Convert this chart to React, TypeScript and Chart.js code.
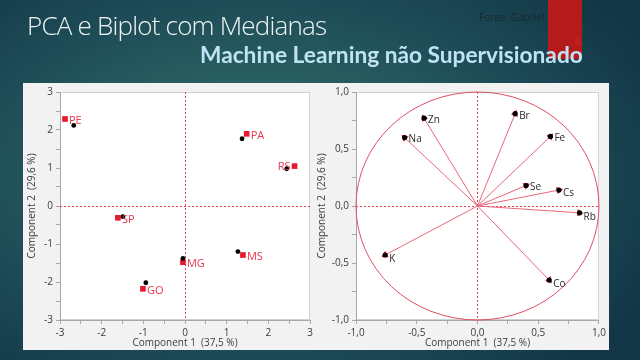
import React, { useEffect, useRef } from "react";
import { Chart, registerables } from "chart.js";

Chart.register(...registerables);

// ---------- Data ----------
const stateLabels = ["PE", "PA", "RS", "SP", "MG", "MS", "GO"];
const stateComp1 = [-2.88, 1.48, 2.63, -1.61, -0.05, 1.39, -1.01];
const stateComp2 = [2.29, 1.9, 1.05, -0.31, -1.48, -1.29, -2.18];
const medianComp1 = [-2.67, 1.37, 2.44, -1.49, -0.05, 1.27, -0.94];
const medianComp2 = [2.12, 1.77, 0.98, -0.28, -1.38, -1.2, -2.02];
const stateLabelSide = ["right", "right", "left", "right", "right", "right", "right"];

const elementLabels = ["Zn", "Na", "Br", "Fe", "Se", "Cs", "Rb", "K", "Co"];
const loadComp1 = [-0.44, -0.6, 0.31, 0.6, 0.4, 0.67, 0.84, -0.76, 0.59];
const loadComp2 = [0.77, 0.6, 0.81, 0.61, 0.18, 0.14, -0.06, -0.43, -0.65];
const elementLabelDrop = [2, 2, 2, 2, 2, 3, 4, 4, 4];

const scoreTicks = [-3, -2, -1, 0, 1, 2, 3];
const loadingTicks = [-1, -0.5, 0, 0.5, 1];
const xTitle = "Component 1  (37,5 %)";
const yTitle = "Component 2  (29,6 %)";

const FONT = "'Open Sans', 'Noto Sans', sans-serif";
const TXT = "#3c3c3c";

const plotBox = {
  id: "plotBox",
  beforeDraw(chart: any) {
    const { ctx, chartArea: a } = chart;
    ctx.save();
    ctx.fillStyle = "#ffffff";
    ctx.fillRect(a.left, a.top, a.width, a.height);
    ctx.strokeStyle = "#d2d2d2";
    ctx.lineWidth = 1;
    ctx.strokeRect(a.left + 0.5, a.top + 0.5, a.width - 1, a.height - 1);
    ctx.restore();
  },
};

const zeroLines = {
  id: "zeroLines",
  beforeDatasetsDraw(chart: any) {
    const { ctx, chartArea: a, scales } = chart;
    const x0 = Math.round(scales.x.getPixelForValue(0)) + 0.5;
    const y0 = Math.round(scales.y.getPixelForValue(0)) + 0.5;
    ctx.save();
    ctx.strokeStyle = "#e0455a";
    ctx.lineWidth = 1;
    ctx.setLineDash([2, 2]);
    ctx.beginPath();
    ctx.moveTo(x0, a.top);
    ctx.lineTo(x0, a.bottom);
    ctx.moveTo(a.left, y0);
    ctx.lineTo(a.right, y0);
    ctx.stroke();
    ctx.restore();
  },
};

const unitCircle = {
  id: "unitCircle",
  beforeDatasetsDraw(chart: any) {
    const { ctx, scales } = chart;
    const cx = scales.x.getPixelForValue(0);
    const cy = scales.y.getPixelForValue(0);
    const rx = scales.x.getPixelForValue(1) - cx;
    const ry = cy - scales.y.getPixelForValue(1);
    ctx.save();
    ctx.strokeStyle = "#e05064";
    ctx.lineWidth = 1;
    ctx.beginPath();
    ctx.ellipse(cx, cy, rx, ry, 0, 0, Math.PI * 2);
    ctx.stroke();
    ctx.restore();
  },
};

const stateLabelPlugin = {
  id: "stateLabelPlugin",
  afterDatasetsDraw(chart: any) {
    const { ctx, scales } = chart;
    ctx.save();
    ctx.font = `11px ${FONT}`;
    ctx.fillStyle = "#e8354f";
    ctx.textBaseline = "middle";
    stateLabels.forEach((lab, i) => {
      const px = scales.x.getPixelForValue(stateComp1[i]);
      const py = scales.y.getPixelForValue(stateComp2[i]);
      if (stateLabelSide[i] === "left") {
        ctx.textAlign = "right";
        ctx.fillText(lab, px - 4, py + 1);
      } else {
        ctx.textAlign = "left";
        ctx.fillText(lab, px + 4, py + 2);
      }
    });
    ctx.restore();
  },
};

const elementLabelPlugin = {
  id: "elementLabelPlugin",
  afterDatasetsDraw(chart: any) {
    const { ctx, scales } = chart;
    ctx.save();
    ctx.font = `10px ${FONT}`;
    ctx.fillStyle = "#2a2a2a";
    ctx.textBaseline = "middle";
    ctx.textAlign = "left";
    elementLabels.forEach((lab, i) => {
      const px = scales.x.getPixelForValue(loadComp1[i]);
      const py = scales.y.getPixelForValue(loadComp2[i]);
      ctx.fillText(lab, px + 4, py + elementLabelDrop[i]);
    });
    ctx.restore();
  },
};

function axisBase(min: number, max: number, step: number, labels: number[], fmt: (v: number) => string) {
  return {
    type: "linear" as const,
    min,
    max,
    ticks: {
      stepSize: step,
      autoSkip: false,
      maxRotation: 0,
      color: TXT,
      padding: 3,
      font: { family: FONT, size: 10 },
      callback: (v: any) => {
        const n = Number(v);
        return labels.some((l) => Math.abs(l - n) < 1e-6) ? fmt(n) : "";
      },
    },
    grid: {
      drawOnChartArea: false,
      drawTicks: true,
      tickLength: 4,
      color: "#a8a8a8",
    },
    border: { display: true, color: "#a8a8a8" },
  };
}

const intFmt = (v: number) => String(Math.round(v));
const decFmt = (v: number) => v.toFixed(1).replace(".", ",");

function ScoreChart() {
  const ref = useRef<HTMLCanvasElement>(null);
  useEffect(() => {
    if (!ref.current) return;
    const chart = new Chart(ref.current, {
      type: "scatter",
      data: {
        datasets: [
          {
            label: "medians",
            data: medianComp1.map((x, i) => ({ x, y: medianComp2[i] })),
            backgroundColor: "#000000",
            borderWidth: 0,
            pointRadius: 2.4,
            order: 1,
          },
          {
            label: "states",
            data: stateComp1.map((x, i) => ({ x, y: stateComp2[i] })),
            backgroundColor: "#e8192e",
            borderWidth: 0,
            pointStyle: "rect",
            pointRadius: 4,
            order: 2,
          },
        ],
      },
      options: {
        responsive: false,
        animation: false,
        devicePixelRatio: 1,
        events: [],
        layout: { padding: { top: 6, right: 6, left: 0, bottom: 0 } },
        plugins: { legend: { display: false }, tooltip: { enabled: false } },
        scales: {
          x: {
            ...axisBase(-3, 3, 0.5, scoreTicks, intFmt),
            afterFit: (s: any) => {
              s.height = 30;
            },
            title: {
              display: true,
              text: xTitle,
              color: TXT,
              font: { family: FONT, size: 10 },
              padding: { top: 0, bottom: 1 },
            },
          },
          y: {
            ...axisBase(-3, 3, 0.5, scoreTicks, intFmt),
            afterFit: (s: any) => {
              s.width = 37;
            },
            title: {
              display: true,
              text: yTitle,
              color: TXT,
              font: { family: FONT, size: 10 },
              padding: { top: 3, bottom: 0 },
            },
          },
        },
      },
      plugins: [plotBox, zeroLines, stateLabelPlugin],
    } as any);
    return () => chart.destroy();
  }, []);
  return (
    <canvas
      ref={ref}
      width={293}
      height={267}
      style={{ position: "absolute", left: 23, top: 83, width: 293, height: 267, zIndex: 2 }}
    />
  );
}

function LoadingChart() {
  const ref = useRef<HTMLCanvasElement>(null);
  useEffect(() => {
    if (!ref.current) return;
    const vectors = elementLabels.map((lab, i) => ({
      label: lab,
      type: "scatter",
      showLine: true,
      data: [
        { x: 0, y: 0 },
        { x: loadComp1[i], y: loadComp2[i] },
      ],
      borderColor: "#e8687a",
      borderWidth: 1,
      pointRadius: 0,
      order: 3,
    }));
    const rotations = loadComp1.map((x, i) => 90 - (Math.atan2(loadComp2[i], x) * 180) / Math.PI);
    const chart = new Chart(ref.current, {
      type: "scatter",
      data: {
        datasets: [
          {
            label: "dots",
            data: loadComp1.map((x, i) => ({ x, y: loadComp2[i] })),
            backgroundColor: "#000000",
            borderWidth: 0,
            pointRadius: 2.6,
            order: 1,
          },
          {
            label: "heads",
            data: loadComp1.map((x, i) => ({ x, y: loadComp2[i] })),
            backgroundColor: "#ea1a34",
            borderWidth: 0,
            pointStyle: "triangle",
            pointRadius: 4.2,
            rotation: rotations,
            order: 2,
          },
          ...vectors,
        ],
      },
      options: {
        responsive: false,
        animation: false,
        devicePixelRatio: 1,
        events: [],
        layout: { padding: { top: 6, right: 5, left: 0, bottom: 0 } },
        plugins: { legend: { display: false }, tooltip: { enabled: false } },
        scales: {
          x: {
            ...axisBase(-1, 1, 0.25, loadingTicks, decFmt),
            afterFit: (s: any) => {
              s.height = 30;
            },
            title: {
              display: true,
              text: xTitle,
              color: TXT,
              font: { family: FONT, size: 10 },
              padding: { top: 0, bottom: 1 },
            },
          },
          y: {
            ...axisBase(-1, 1, 0.25, loadingTicks, decFmt),
            afterFit: (s: any) => {
              s.width = 46;
            },
            title: {
              display: true,
              text: yTitle,
              color: TXT,
              font: { family: FONT, size: 10 },
              padding: { top: 6, bottom: 0 },
            },
          },
        },
      },
      plugins: [plotBox, zeroLines, unitCircle, elementLabelPlugin],
    } as any);
    return () => chart.destroy();
  }, []);
  return (
    <canvas
      ref={ref}
      width={299}
      height={267}
      style={{ position: "absolute", left: 310, top: 83, width: 299, height: 267, zIndex: 1 }}
    />
  );
}

export default function App() {
  return (
    <div
      style={{
        position: "fixed",
        left: 0,
        top: 0,
        width: 640,
        height: 360,
        overflow: "hidden",
        background:
          "radial-gradient(ellipse 70% 75% at 40% 48%, #397472 0%, #2b6262 30%, #1d4b56 65%, #123646 100%)",
        fontFamily: FONT,
      }}
    >
      <div
        style={{
          position: "absolute",
          left: 548,
          top: 0,
          width: 34,
          height: 59,
          background: "#b51b1b",
        }}
      />
      <div
        style={{
          position: "absolute",
          left: 575,
          top: 37,
          fontSize: 9,
          color: "#d42a2a",
          lineHeight: "10px",
        }}
      >
        6
      </div>
      <div
        style={{
          position: "absolute",
          left: 479,
          top: 10,
          fontSize: 10,
          color: "#17282d",
          lineHeight: "14px",
          whiteSpace: "nowrap",
        }}
      >
        Fonte: Gabriel
      </div>
      <div
        style={{
          position: "absolute",
          left: 27,
          top: 6,
          fontSize: 26,
          fontWeight: 300,
          letterSpacing: "-0.8px",
          color: "#eef4f4",
          lineHeight: "38px",
          whiteSpace: "nowrap",
        }}
      >
        PCA e Biplot com Medianas
      </div>
      <div
        style={{
          position: "absolute",
          left: 200,
          top: 41,
          fontSize: 22.7,
          fontWeight: 700,
          fontFamily: "Lato, 'Open Sans', sans-serif",
          color: "#bfe3f4",
          lineHeight: "27px",
          whiteSpace: "nowrap",
        }}
      >
        Machine Learning não Supervisionado
      </div>
      <div
        style={{
          position: "absolute",
          left: 23,
          top: 83,
          width: 586,
          height: 267,
          background: "#f2f2f2",
        }}
      />
      <LoadingChart />
      <ScoreChart />
    </div>
  );
}
